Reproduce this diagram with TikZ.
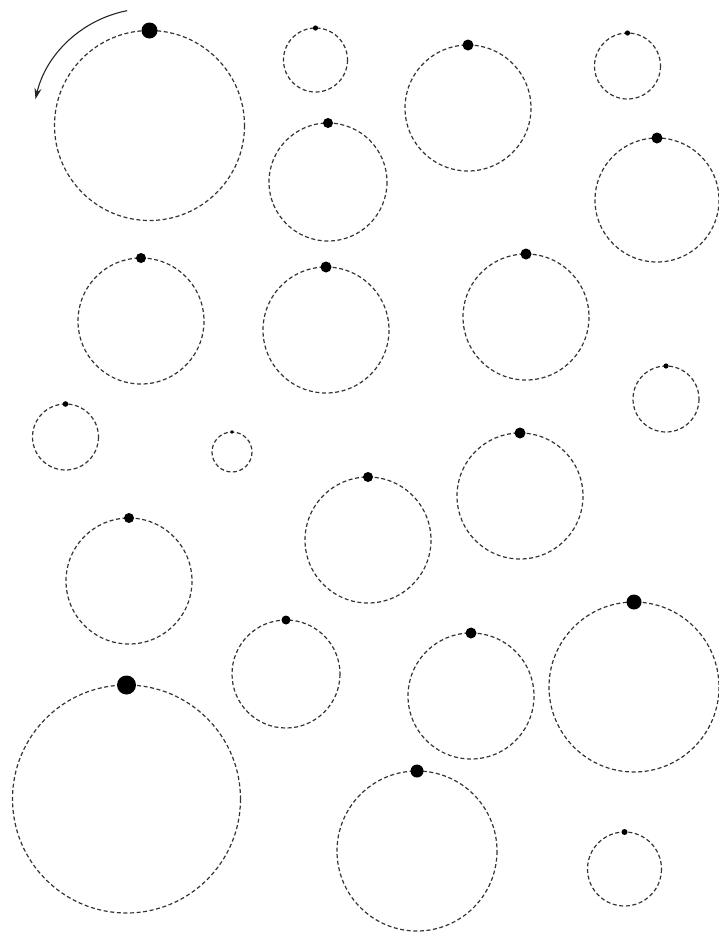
\documentclass[tikz,border=0pt]{standalone}
\usetikzlibrary{arrows.meta}

\begin{document}
\begin{tikzpicture}[
   x=1pt,y=-1pt,
   >={Stealth[length=11pt,width=7pt]},
   orbit/.style={draw=black!80,line width=1.2pt,dash pattern=on 4pt off 2.6pt},
   planet/.style={fill=black},
   spin/.style={->,line width=1.1pt,black!85}
  ]
  \useasboundingbox[fill=white] (0,0) rectangle (719,932);

  % orbits: centre x, centre y, radius, dot radius
  \foreach \cx/\cy/\r/\d in {
      149.5/125.5/95/8,   315.5/60/32/2.6,   468/108/63/5.5,  627.5/66/33/2.6,
      328/182/59/5,       657/200/62/5.5,    141/321/63/5,    326/330/63/5.5,
      526/317/63/5.5,     666/399/33/2.6,    65.5/437/33/2.8, 232/452/20/1.8,
      368/540/63/5,       520/496/63/5.5,    129/581/63/5,    286/674/54/4.5,
      471/696/63/5.5,     634/687/85/7.5,    126.5/799/114/9.5,
      417/851/80/6.5,     624.5/869/37/3}
  {
    \draw[orbit] (\cx,\cy) circle[radius=\r];
    \fill[planet] (\cx,\cy-\r) circle[radius=\d];
  }

  % direction of motion
  \draw[spin] (149.5,125.5) ++(-101:117) arc[start angle=-101,end angle=-167,radius=117];
\end{tikzpicture}
\end{document}
